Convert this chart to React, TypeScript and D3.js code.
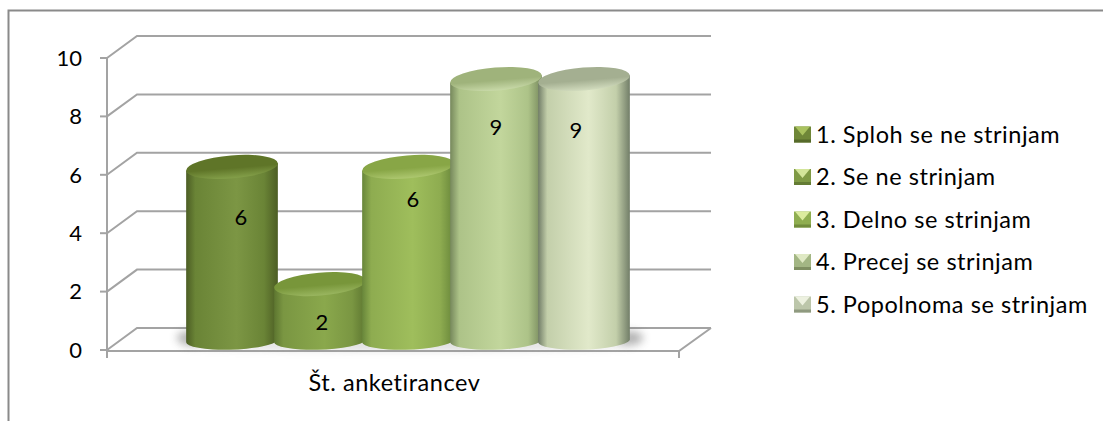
import React from "react";
import * as d3 from "d3";

const categoryLabel = "Št. anketirancev";
const seriesNames = [
  "1. Sploh se ne strinjam",
  "2. Se ne strinjam",
  "3. Delno se strinjam",
  "4. Precej se strinjam",
  "5. Popolnoma se strinjam",
];
const seriesValues = [6, 2, 6, 9, 9];
const yTicks = [0, 2, 4, 6, 8, 10];

// [edge, mid, shoulder] of the cylinder side
const sideColors = [
  ["#4c5d24", "#7c9644", "#6a8436"],
  ["#5d7630", "#8aa84c", "#7a9642"],
  ["#68863a", "#9fbe5c", "#8eac50"],
  ["#76885c", "#c2d69c", "#adc388"],
  ["#727e68", "#e1e9ca", "#c3cfaa"],
];
// top face: dark / rim
const topColors = [
  ["#5f7528", "#84a04a"],
  ["#78963a", "#9ab660"],
  ["#88a646", "#aec870"],
  ["#9fb37b", "#c8d9a8"],
  ["#a4af91", "#d2dcbe"],
];
// legend swatch: side / bottom / light triangle
const swatchColors = [
  ["#6f8738", "#566a2a", "#a9c25e"],
  ["#7f9a45", "#647c34", "#d3e59a"],
  ["#8fae50", "#718c3c", "#dcec9e"],
  ["#a3b684", "#7f8f62", "#dfe9c4"],
  ["#bcc6aa", "#8f9a80", "#edf1e0"],
];
// labels were hand placed in the original chart
const labelOffsets = [
  [9, 50],
  [2, 38],
  [5, 32],
  [0, 48],
  [-8, 51],
];

const width = 1103;
const height = 421;
const font = "Lato, 'Open Sans', sans-serif";
const fontSize = 23.5;
const spacing = 0.55;

const depthX = 30;
const depthY = 22;
const gridColor = "#a3a3a3";

const y = d3.scaleLinear().domain([0, 10]).range([350, 58]);
const topY = d3.scaleLinear().domain([0, 10]).range([342.7, 49.7]);
const x = d3.scaleBand<number>().domain(d3.range(5)).range([188, 628]);

const rx = 46;
const ry = 11.5;
const tilt = -4.7;
const baseRy = 9;
const baseY = 341;
const cosT = Math.cos((tilt * Math.PI) / 180);
const sinT = Math.sin((tilt * Math.PI) / 180);

function sidePath(cx: number, top: number) {
  const dx = rx * cosT;
  const dy = rx * sinT;
  return `M${cx - dx},${top - dy}L${cx - dx},${baseY + 1}A${rx},${baseRy} -2 0 0 ${cx + dx},${baseY - 1}L${cx + dx},${top + dy}Z`;
}

function App() {
  const [x0, x1] = x.range();
  return (
    <svg
      width={width}
      height={height}
      style={{ position: "absolute", left: 0, top: 0, background: "#fff" }}
    >
      <defs>
        <filter id="blur" x="-100%" y="-100%" width="300%" height="300%">
          <feGaussianBlur stdDeviation="4" />
        </filter>
        {sideColors.map((c, i) => (
          <linearGradient key={i} id={`side${i}`} x1="0" x2="1" y1="0" y2="0">
            <stop offset="0" stopColor={c[0]} />
            <stop offset="0.1" stopColor={c[2]} />
            <stop offset="0.55" stopColor={c[1]} />
            <stop offset="0.85" stopColor={c[2]} />
            <stop offset="1" stopColor={c[0]} />
          </linearGradient>
        ))}
        {topColors.map((c, i) => (
          <linearGradient key={i} id={`top${i}`} x1="0" x2="0" y1="0" y2="1">
            <stop offset="0" stopColor={c[0]} />
            <stop offset="0.55" stopColor={c[0]} />
            <stop offset="1" stopColor={c[1]} />
          </linearGradient>
        ))}
      </defs>

      {/* outer frame */}
      <path d={`M8.5,${height}V10.5H${width}`} fill="none" stroke="#8a8a8a" strokeWidth={2} />

      {/* back wall gridlines */}
      {yTicks.map((t) => (
        <path
          key={t}
          d={`M${107},${y(t)}L${107 + depthX},${y(t) - depthY}H711`}
          fill="none"
          stroke={gridColor}
          strokeWidth={2}
        />
      ))}
      {/* axis and floor */}
      <path
        d={`M107,${y(10)}V${y(0) + 8}`}
        fill="none"
        stroke={gridColor}
        strokeWidth={2}
      />
      <path
        d={`M107,${y(0) + 1}H679L711,${y(0) - depthY}M679,${y(0) + 1}V${y(0) + 8}`}
        fill="none"
        stroke={gridColor}
        strokeWidth={2}
      />
      {yTicks.map((t) => (
        <g key={t}>
          <line x1={100} x2={107} y1={y(t)} y2={y(t)} stroke={gridColor} strokeWidth={2} />
          <text
            x={82}
            y={y(t)}
            dy="0.35em"
            textAnchor="end"
            fontFamily={font}
            fontSize={22}
            fill="#000"
          >
            {t}
          </text>
        </g>
      ))}

      {/* floor shadows at both ends, faint under the rest */}
      <ellipse cx={(x0 + x1) / 2} cy={baseY + 4} rx={225} ry={5} fill="#999" opacity={0.35} filter="url(#blur)" />
      <ellipse cx={x0 + 2} cy={baseY - 3} rx={13} ry={7} fill="#555" opacity={0.45} filter="url(#blur)" />
      <ellipse cx={x1 + 2} cy={baseY - 3} rx={13} ry={7} fill="#555" opacity={0.45} filter="url(#blur)" />

      {/* cylinders */}
      {seriesValues.map((v, i) => {
        const cx = x(i)! + x.bandwidth() / 2;
        const top = topY(v);
        return (
          <g key={i}>
            <path d={sidePath(cx, top)} fill={`url(#side${i})`} />
            <ellipse
              cx={cx}
              cy={top}
              rx={rx}
              ry={ry}
              transform={`rotate(${tilt} ${cx} ${top})`}
              fill={`url(#top${i})`}
            />
          </g>
        );
      })}
      {seriesValues.map((v, i) => {
        const cx = x(i)! + x.bandwidth() / 2;
        return (
          <text
            key={i}
            x={cx + labelOffsets[i][0]}
            y={topY(v) + labelOffsets[i][1]}
            dy="0.35em"
            textAnchor="middle"
            fontFamily={font}
            fontSize={22}
            fill="#000"
          >
            {v}
          </text>
        );
      })}

      <text
        x={394.5}
        y={391}
        textAnchor="middle"
        fontFamily={font}
        fontSize={fontSize}
        letterSpacing={spacing}
        fill="#000"
      >
        {categoryLabel}
      </text>

      {/* legend */}
      {seriesNames.map((name, i) => {
        const cy = 134.5 + i * 42.5;
        const l = 794;
        const r = 811;
        const t = cy - 8;
        const b = cy + 8;
        return (
          <g key={name}>
            <rect x={l} y={t} width={r - l} height={b - t} fill={swatchColors[i][0]} />
            <rect x={l} y={b - 3} width={r - l} height={3} fill={swatchColors[i][1]} />
            <path
              d={`M${l + 1},${t}H${r - 1}L${(l + r) / 2},${cy + 1}Z`}
              fill={swatchColors[i][2]}
            />
            <text
              x={816}
              y={cy}
              dy="0.35em"
              fontFamily={font}
              fontSize={fontSize}
              letterSpacing={spacing}
              fill="#000"
            >
              {name}
            </text>
          </g>
        );
      })}
    </svg>
  );
}

export default App;
